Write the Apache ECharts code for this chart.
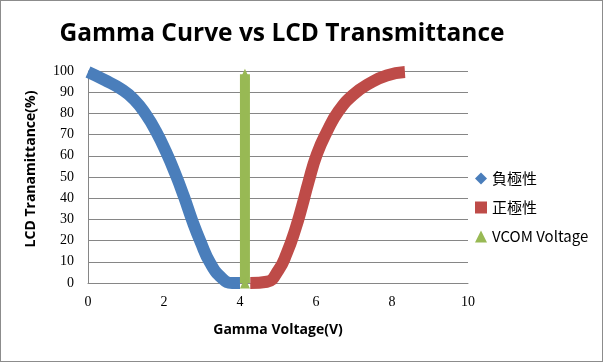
<!DOCTYPE html>
<html><head><meta charset="utf-8">
<script src="https://cdn.jsdelivr.net/npm/echarts@6/dist/echarts.min.js"></script>
<style>
html,body{margin:0;padding:0;background:#fff;}
#c{width:601px;height:360px;border:1px solid #8c8c8c;}
</style></head>
<body><div id="c"></div>
<script>
var negX = [0, 0.43, 0.87, 1.22, 1.53, 1.79, 2.05, 2.31, 2.52, 2.74, 2.96, 3.22, 3.53, 3.79, 4.0];
var negY = [99.5, 95.8, 91.5, 86.4, 79.3, 71.5, 62, 51, 41, 29.6, 19.5, 9.3, 2.2, 0, 0];
var posX = [4.27, 4.71, 5.01, 5.23, 5.45, 5.63, 5.8, 6.02, 6.29, 6.59, 6.98, 7.42, 7.86, 8.34];
var posY = [0, 0.6, 6, 14, 25, 36, 47.5, 60.6, 71.5, 81, 88.8, 94.3, 97.9, 99.5];
var vcomX = [4.13, 4.13];
var vcomY = [0, 98.5];
var names = ['負極性', '正極性', 'VCOM Voltage'];

function pairs(xs, ys){ return xs.map(function(x,i){return [x, ys[i]];}); }

var chart = echarts.init(document.getElementById('c'));
chart.setOption({
  animation:false,
  title:{text:'Gamma Curve vs LCD Transmittance', left:276, top:16, textAlign:'center',
    textStyle:{fontFamily:'Open Sans', fontWeight:'bold', fontSize:24.5, color:'#000'}},
  grid:{left:87, right:134, top:70, bottom:78},
  legend:{orient:'vertical', left:469, top:165, itemGap:14, itemWidth:12, itemHeight:12,
    textStyle:{fontFamily:'Noto Sans CJK TC', fontSize:15, color:'#000'},
    data:[{name:names[0], icon:'diamond'},{name:names[1], icon:'rect'},{name:names[2], icon:'triangle'}]},
  xAxis:{type:'value', min:0, max:10, interval:2,
    axisLine:{lineStyle:{color:'#868686'}}, axisTick:{show:false}, splitLine:{show:false},
    axisLabel:{fontFamily:'Liberation Serif', fontSize:14, color:'#000', margin:12},
    name:'Gamma Voltage(V)', nameLocation:'middle', nameGap:40,
    nameTextStyle:{fontFamily:'Open Sans', fontWeight:'bold', fontSize:14, color:'#000'}},
  yAxis:{type:'value', min:0, max:100, interval:10,
    axisLine:{show:true, lineStyle:{color:'#868686'}}, axisTick:{show:false},
    splitLine:{lineStyle:{color:'#868686'}},
    axisLabel:{fontFamily:'Liberation Serif', fontSize:14, color:'#000', margin:14},
    name:'LCD Tranamittance(%)', nameLocation:'middle', nameGap:50,
    nameTextStyle:{fontFamily:'Open Sans', fontWeight:'bold', fontSize:14, color:'#000', padding:[0,0,0,16]}},
  series:[
    {name:names[0], type:'line', smooth:0.5, data:pairs(negX,negY), showSymbol:false, symbol:'diamond',
      itemStyle:{color:'#4a7ebb'}, lineStyle:{width:12, color:'#4a7ebb'}},
    {name:names[1], type:'line', smooth:0.5, data:pairs(posX,posY), showSymbol:false, symbol:'rect',
      itemStyle:{color:'#be4b48'}, lineStyle:{width:12, color:'#be4b48'}},
    {name:names[2], type:'line', data:pairs(vcomX,vcomY), symbol:'triangle', symbolSize:[10,11],
      showSymbol:true, showAllSymbol:true,
      itemStyle:{color:'#98b954'}, lineStyle:{width:10, color:'#98b954'}}
  ]
});
</script></body></html>
